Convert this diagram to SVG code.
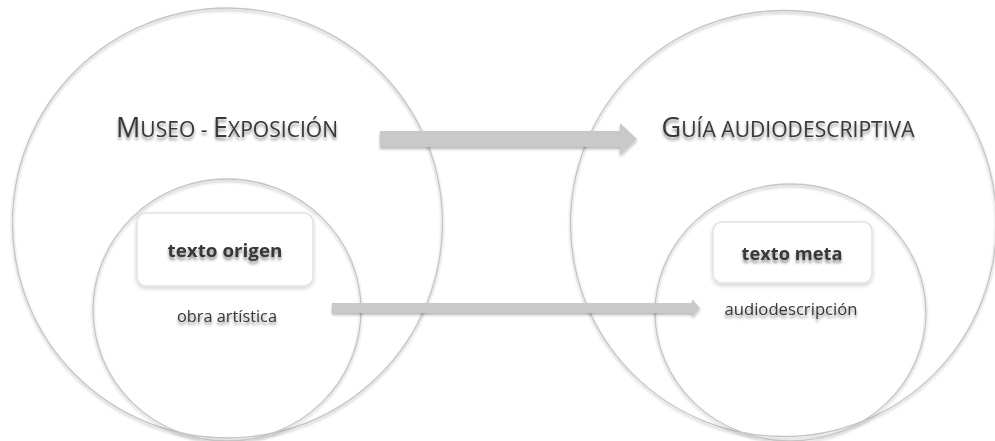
<svg xmlns="http://www.w3.org/2000/svg" width="995" height="441" viewBox="0 0 995 441">
  <defs>
    <filter id="txtShadow" x="-10%" y="-30%" width="120%" height="170%">
      <feGaussianBlur in="SourceAlpha" stdDeviation="1.6"/>
      <feOffset dx="0" dy="2.5" result="blur"/>
      <feComponentTransfer><feFuncA type="linear" slope="0.45"/></feComponentTransfer>
      <feMerge><feMergeNode/><feMergeNode in="SourceGraphic"/></feMerge>
    </filter>
    <filter id="shapeShadow" x="-10%" y="-10%" width="120%" height="130%">
      <feGaussianBlur in="SourceAlpha" stdDeviation="1.5"/>
      <feOffset dx="0" dy="2" result="blur"/>
      <feComponentTransfer><feFuncA type="linear" slope="0.3"/></feComponentTransfer>
      <feMerge><feMergeNode/><feMergeNode in="SourceGraphic"/></feMerge>
    </filter>
    <filter id="boxShadow" x="-10%" y="-20%" width="120%" height="150%">
      <feGaussianBlur in="SourceAlpha" stdDeviation="2"/>
      <feOffset dx="0" dy="2" result="blur"/>
      <feComponentTransfer><feFuncA type="linear" slope="0.18"/></feComponentTransfer>
      <feMerge><feMergeNode/><feMergeNode in="SourceGraphic"/></feMerge>
    </filter>
  </defs>
  <style>
    .ring { fill: none; stroke: #c4c4c4; stroke-width: 1.3; }
    .box { fill: #ffffff; stroke: #e2e2e2; stroke-width: 1.5; }
    .arrow { fill: #c9c9c9; }
    text { fill: #383838; font-family: "Open Sans", "Liberation Sans", sans-serif; text-anchor: middle; }
    .title { font-size: 27px; }
    .title tspan.sc { font-size: 21px; }
    .key { font-size: 18px; font-weight: bold; }
    .note { font-size: 16.5px; }
  </style>

  <rect width="995" height="441" fill="#ffffff"/>

  <!-- source side: museum / exhibition -->
  <g id="museo">
    <circle class="ring" cx="227.5" cy="223" r="215" filter="url(#shapeShadow)"/>
    <text class="title" x="227" y="137" filter="url(#txtShadow)" textLength="222" lengthAdjust="spacingAndGlyphs">M<tspan class="sc">USEO - </tspan>E<tspan class="sc">XPOSICIÓN</tspan></text>
  </g>
  <g id="obra">
    <ellipse class="ring" cx="227" cy="310" rx="134" ry="131" filter="url(#shapeShadow)"/>
    <rect class="box" x="137" y="213" width="176" height="73" rx="9" filter="url(#boxShadow)"/>
    <text class="key" x="225" y="257" filter="url(#txtShadow)" textLength="115" lengthAdjust="spacingAndGlyphs">texto origen</text>
    <text class="note" x="227" y="322" filter="url(#txtShadow)" textLength="100" lengthAdjust="spacingAndGlyphs">obra artística</text>
  </g>

  <!-- target side: audio-described guide -->
  <g id="guia">
    <circle class="ring" cx="783.5" cy="223.5" r="213" filter="url(#shapeShadow)"/>
    <text class="title" x="788" y="137" filter="url(#txtShadow)" textLength="253" lengthAdjust="spacingAndGlyphs">G<tspan class="sc">UÍA AUDIODESCRIPTIVA</tspan></text>
  </g>
  <g id="audiodescripcion">
    <ellipse class="ring" cx="790.5" cy="312.5" rx="135.5" ry="128.5" filter="url(#shapeShadow)"/>
    <rect class="box" x="713" y="222" width="159" height="61" rx="9" filter="url(#boxShadow)"/>
    <text class="key" x="792" y="260" filter="url(#txtShadow)" textLength="101" lengthAdjust="spacingAndGlyphs">texto meta</text>
    <text class="note" x="791" y="315" filter="url(#txtShadow)" textLength="133" lengthAdjust="spacingAndGlyphs">audiodescripción</text>
  </g>

  <!-- connectors -->
  <g id="connectors">
    <path class="arrow" filter="url(#shapeShadow)" d="M380,131 H620 V123 L637,139 L620,155 V147 H380 Z"/>
    <path class="arrow" filter="url(#shapeShadow)" d="M332,303 H692 V299 L700,308 L692,317 V313 H332 Z"/>
  </g>
</svg>
